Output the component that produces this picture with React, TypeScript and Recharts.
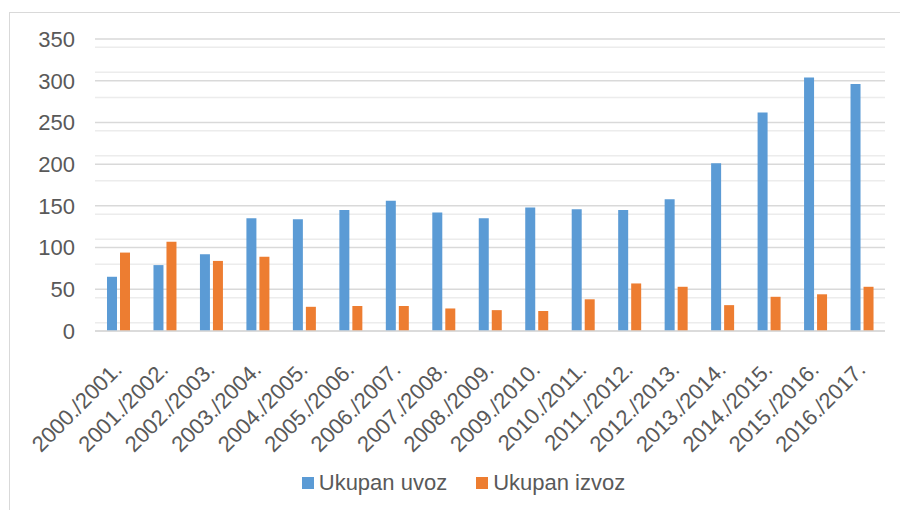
import { BarChart, Bar, XAxis, YAxis, CartesianGrid, Legend } from "recharts";

const seasons = [
  "2000./2001.", "2001./2002.", "2002./2003.", "2003./2004.", "2004./2005.",
  "2005./2006.", "2006./2007.", "2007./2008.", "2008./2009.", "2009./2010.",
  "2010./2011.", "2011./2012.", "2012./2013.", "2013./2014.", "2014./2015.",
  "2015./2016.", "2016./2017.",
];
const uvoz = [65, 79, 92, 135, 134, 145, 156, 142, 135, 148, 146, 145, 158, 201, 262, 304, 296];
const izvoz = [94, 107, 84, 89, 29, 30, 30, 27, 25, 24, 38, 57, 53, 31, 41, 44, 53];
const majorTicks = [0, 50, 100, 150, 200, 250, 300, 350];
const minorTicks = [10, 20, 30, 40, 60, 70, 80, 90, 110, 120, 130, 140, 160, 170, 180, 190,
  210, 220, 230, 240, 260, 270, 280, 290, 310, 320, 330, 340];

const data = seasons.map((s, i) => ({ season: s, uvoz: uvoz[i], izvoz: izvoz[i] }));

const FONT = '"Liberation Sans", Arial, sans-serif';
const TEXT = "#595959";
const BLUE = "#5b9bd5";
const ORANGE = "#ed7d31";

const XTick = (props: any) => {
  const { x, y, payload } = props;
  return (
    <g transform={`translate(${x + 5},${y + 32})`}>
      <text textAnchor="end" transform="rotate(-45)" fill={TEXT} fontSize={22} fontFamily={FONT}>
        {payload.value}
      </text>
    </g>
  );
};

const LegendBox = () => (
  <div
    style={{
      display: "flex",
      justifyContent: "center",
      alignItems: "center",
      fontFamily: FONT,
      fontSize: 22,
      color: TEXT,
      height: 30,
      paddingLeft: 42,
    }}
  >
    <span style={{ width: 12, height: 12, background: BLUE, marginRight: 5, display: "inline-block" }} />
    <span style={{ marginRight: 29 }}>Ukupan uvoz</span>
    <span style={{ width: 12, height: 12, background: ORANGE, marginRight: 5, display: "inline-block" }} />
    <span>Ukupan izvoz</span>
  </div>
);

export default function App() {
  return (
    <div style={{ position: "absolute", left: 0, top: 0, width: 900, height: 510, background: "#fff" }}>
      <div
        style={{
          position: "absolute",
          left: 9,
          top: 12,
          width: 900,
          height: 510,
          border: "1px solid #d9d9d9",
        }}
      />
      <BarChart
        width={900}
        height={510}
        data={data}
        margin={{ top: 39, right: 15, left: 0, bottom: 12 }}
        barSize={10}
        barGap={3}
      >
        <CartesianGrid
          vertical={false}
          horizontalValues={minorTicks}
          stroke="#ececec"
          strokeWidth={1.5}
        />
        <CartesianGrid
          vertical={false}
          horizontalValues={majorTicks}
          stroke="#d9d9d9"
          strokeWidth={1.5}
        />
        <XAxis
          dataKey="season"
          interval={0}
          height={137}
          tickLine={false}
          axisLine={{ stroke: "#d9d9d9", strokeWidth: 1.5 }}
          tick={<XTick />}
        />
        <YAxis
          width={95}
          domain={[0, 350]}
          ticks={majorTicks}
          axisLine={false}
          tickLine={false}
          tickMargin={14}
          tick={{ fill: TEXT, fontSize: 22, fontFamily: FONT }}
        />
        <Legend verticalAlign="bottom" height={30} content={<LegendBox />} />
        <Bar dataKey="uvoz" name="Ukupan uvoz" fill={BLUE} isAnimationActive={false} />
        <Bar dataKey="izvoz" name="Ukupan izvoz" fill={ORANGE} isAnimationActive={false} />
      </BarChart>
    </div>
  );
}
